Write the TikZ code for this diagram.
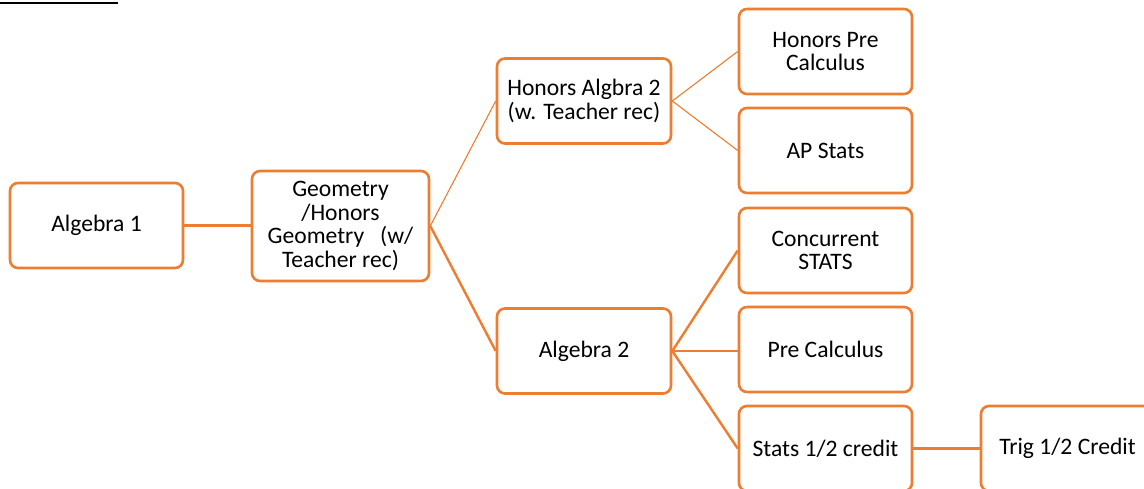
\documentclass[tikz,border=0pt]{standalone}
\usepackage{fontspec}
\setmainfont{Carlito}
\definecolor{orng}{HTML}{ED7D31}
\begin{document}
\begin{tikzpicture}[x=1pt,y=-1pt,
  box/.style={draw=orng, line width=2.6pt, rounded corners=8pt, fill=white,
    minimum width=173pt, minimum height=85pt, align=center, inner sep=2pt,
    font=\fontsize{23.6}{23.8}\selectfont},
  thick link/.style={draw=orng, line width=2.4pt},
  thin link/.style={draw=orng, line width=1.1pt}]
\useasboundingbox (0,0) rectangle (1144,489);
\clip (0,0) rectangle (1144,489);
\fill[black] (0,1.8) rectangle (118,4.4);
\node[box] (alg1) at (96.5,225.5) {Algebra 1};
\node[box, minimum width=177pt, minimum height=110pt] (geo) at (340.5,226) {Geometry\\/Honors\\Geometry\ \ \ (w/\\Teacher rec)};
\node[box, minimum width=174pt] (halg2) at (584,101) {Honors Algbra 2\\(w. Teacher rec)};
\node[box, minimum width=174pt] (alg2) at (584,351) {Algebra 2};
\node[box] (hpc) at (825.5,51.5) {Honors Pre\\Calculus};
\node[box] (aps) at (825.5,150.5) {AP Stats};
\node[box] (cs) at (825.5,250.5) {Concurrent\\STATS};
\node[box] (pc) at (825.5,349.5) {Pre Calculus};
\node[box] (st) at (825.5,448.5) {Stats 1/2 credit};
\node[box] (trig) at (1067.5,448.5) {Trig 1/2 Credit};
\draw[thick link] (alg1.east) -- (geo.west |- alg1.east);
\draw[thin link] (geo.east) -- (halg2.west);
\draw[thick link] (geo.east) -- (alg2.west);
\draw[thin link] (halg2.east) -- (hpc.west);
\draw[thin link] (halg2.east) -- (aps.west);
\draw[thick link] (alg2.east) -- (cs.west);
\draw[thick link] (alg2.east) -- (pc.west |- alg2.east);
\draw[thick link] (alg2.east) -- (st.west);
\draw[thick link] (st.east) -- (trig.west);
\end{tikzpicture}
\end{document}
